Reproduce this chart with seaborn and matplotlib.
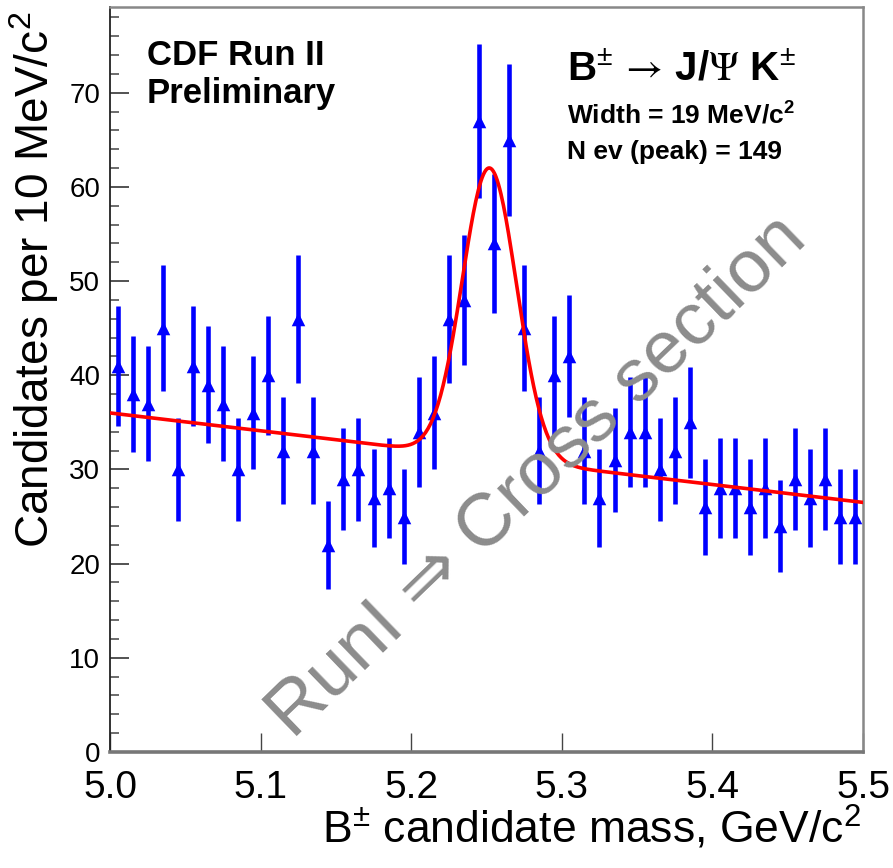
import numpy as np
import pandas as pd
import matplotlib
matplotlib.use("Agg")
import matplotlib.pyplot as plt
import seaborn as sns
from matplotlib.ticker import MultipleLocator, FormatStrFormatter

# ---------------- data ----------------
bin_lo, bin_hi, n_bins = 5.0, 5.5, 50
mass_centres = np.linspace(bin_lo + 0.005, bin_hi - 0.005, n_bins)
counts = [41, 38, 37, 45, 30, 41, 39, 37, 30, 36,
          40, 32, 46, 32, 22, 29, 30, 27, 28, 25,
          34, 36, 46, 48, 67, 54, 65, 45, 32, 40,
          42, 32, 27, 31, 34, 34, 30, 32, 35, 26,
          28, 28, 26, 28, 24, 29, 27, 29, 25, 25]

# fit: gaussian + linear background
bg_at_5 = 36.0      # candidates at 5.0 GeV
bg_slope = -19.0    # candidates per GeV
peak_mean = 5.252
peak_sigma = 0.018
peak_amp = 30.8

x_ticks = [5.0, 5.1, 5.2, 5.3, 5.4, 5.5]
y_ticks = [0, 10, 20, 30, 40, 50, 60, 70]

title_lines = ["CDF Run II", "Preliminary"]
decay_text = r"B$^{\pm}\,\mathsf{\rightarrow}\,$J/$\mathsf{\Psi}$ K$^{\pm}$"
width_text = r"Width = 19 MeV/c$^{\mathbf{2}}$"
nev_text = "N ev (peak) = 149"
watermark = "RunI \u21d2 Cross section"

# ---------------- style ----------------
sns.set_style("white")
plt.rcParams['font.family'] = ['Liberation Sans', 'DejaVu Sans']
plt.rcParams['mathtext.fontset'] = 'custom'
plt.rcParams['mathtext.rm'] = 'Liberation Sans'
plt.rcParams['mathtext.it'] = 'Liberation Sans:italic'
plt.rcParams['mathtext.bf'] = 'Liberation Sans:bold'
plt.rcParams['mathtext.sf'] = 'STIXGeneral'

W, H = 893, 868
fig = plt.figure(figsize=(W / 100, H / 100), dpi=100)
fig.patch.set_facecolor('white')
ax_l, ax_r, ax_t, ax_b = 110, 863, 7, 752
ax = fig.add_axes([ax_l / W, 1 - ax_b / H, (ax_r - ax_l) / W, (ax_b - ax_t) / H])

df = pd.DataFrame({'mass': mass_centres, 'count': counts})
df['err'] = np.sqrt(df['count'])

ax.vlines(df['mass'], df['count'] - df['err'], df['count'] + df['err'],
          color='#0000ff', lw=3.3, zorder=3)
sns.scatterplot(data=df, x='mass', y='count', marker='^', s=95,
                color='#0000ff', edgecolor='#0000ff', linewidth=0, zorder=4, ax=ax)

xfit = np.linspace(bin_lo, bin_hi, 600)
yfit = (bg_at_5 + bg_slope * (xfit - bin_lo)
        + peak_amp * np.exp(-0.5 * ((xfit - peak_mean) / peak_sigma) ** 2))
sns.lineplot(x=xfit, y=yfit, color='#ff0000', lw=2.6, ax=ax, zorder=5)

ax.set_xlim(bin_lo, bin_hi)
ax.set_ylim(0, 79.1)
ax.set_xticks(x_ticks)
ax.xaxis.set_major_formatter(FormatStrFormatter('%.1f'))
ax.set_yticks(y_ticks)
ax.yaxis.set_minor_locator(MultipleLocator(2))

ax.tick_params(axis='y', which='major', direction='in', length=14, width=1.3,
               color='#444444', left=True, right=False, labelsize=20, pad=7,
               labelcolor='#000000')
ax.tick_params(axis='y', which='minor', direction='in', length=6.5, width=1.1,
               color='#444444', left=True, right=False)
ax.tick_params(axis='x', which='major', direction='in', length=14, width=1.0,
               color='#444444', bottom=True, top=False, labelsize=28, pad=13,
               labelcolor='#000000')

for side, col, lw in [('left', '#222222', 1.3), ('bottom', '#777777', 2.6),
                      ('top', '#888888', 1.8), ('right', '#888888', 1.8)]:
    ax.spines[side].set_color(col)
    ax.spines[side].set_linewidth(lw)

ax.set_xlabel(r"B$^{\pm}$ candidate mass, GeV/c$^{2}$", fontsize=32, loc='right',
              color='#000000')
ax.xaxis.set_label_coords(0.997, -(804 - ax_b) / (ax_b - ax_t))
ax.set_ylabel(r"Candidates per 10 MeV/c$^{2}$", fontsize=33, loc='top', color='#000000')
ax.yaxis.set_label_coords((61 - ax_l) / (ax_r - ax_l), (ax_b - 12) / (ax_b - ax_t))


def fpos(x, y):
    return x / W, 1 - y / H


fig.text(*fpos(147, 65), title_lines[0], fontsize=25, fontweight='bold', va='baseline',
         color='black')
fig.text(*fpos(147, 103), title_lines[1], fontsize=25, fontweight='bold', va='baseline',
         color='black')
fig.text(*fpos(567, 80), decay_text, fontsize=29, fontweight='bold', va='baseline',
         color='black')
fig.text(*fpos(567, 124), width_text, fontsize=19, fontweight='bold', va='baseline',
         color='black')
fig.text(*fpos(567, 159), nev_text, fontsize=19, fontweight='bold', va='baseline',
         color='black')

fig.text(*fpos(537, 476), watermark, fontsize=54, color='#8c8c8c', rotation=44,
         ha='center', va='center', rotation_mode='anchor', zorder=10,
         family=['Liberation Sans', 'DejaVu Sans'])

fig.savefig('out.png', dpi=100)
